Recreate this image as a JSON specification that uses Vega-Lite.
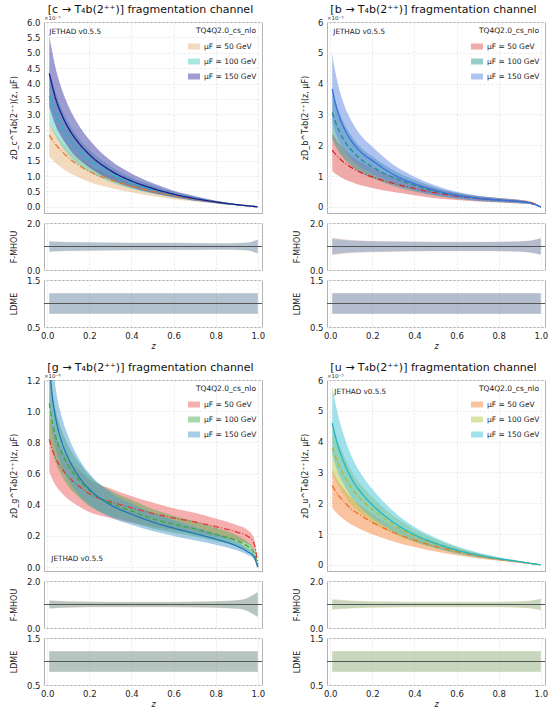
{
  "$schema": "https://vega.github.io/schema/vega-lite/v6.json",
  "datasets": {
    "c": [
      {"mu":50,"z":0.01,"v":2.33,"lo":1.63,"hi":2.73},{"mu":50,"z":0.02,"v":2.22,"lo":1.55,"hi":2.6},{"mu":50,"z":0.04,"v":2.03,"lo":1.42,"hi":2.38},{"mu":50,"z":0.07,"v":1.8,"lo":1.26,"hi":2.11},{"mu":50,"z":0.1,"v":1.6,"lo":1.12,"hi":1.87},{"mu":50,"z":0.15,"v":1.35,"lo":0.95,"hi":1.58},{"mu":50,"z":0.2,"v":1.15,"lo":0.81,"hi":1.35},{"mu":50,"z":0.3,"v":0.88,"lo":0.62,"hi":1.03},{"mu":50,"z":0.4,"v":0.67,"lo":0.47,"hi":0.78},{"mu":50,"z":0.5,"v":0.5,"lo":0.35,"hi":0.59},{"mu":50,"z":0.6,"v":0.36,"lo":0.25,"hi":0.42},{"mu":50,"z":0.7,"v":0.25,"lo":0.18,"hi":0.29},{"mu":50,"z":0.8,"v":0.15,"lo":0.11,"hi":0.18},{"mu":50,"z":0.9,"v":0.07,"lo":0.05,"hi":0.08},{"mu":50,"z":0.95,"v":0.035,"lo":0.02,"hi":0.04},{"mu":50,"z":1.0,"v":0,"lo":0,"hi":0},
      {"mu":100,"z":0.01,"v":3.6,"lo":2.7,"hi":4.39},{"mu":100,"z":0.02,"v":3.4,"lo":2.55,"hi":4.15},{"mu":100,"z":0.04,"v":3.05,"lo":2.29,"hi":3.72},{"mu":100,"z":0.07,"v":2.6,"lo":1.95,"hi":3.17},{"mu":100,"z":0.1,"v":2.25,"lo":1.69,"hi":2.75},{"mu":100,"z":0.15,"v":1.83,"lo":1.37,"hi":2.23},{"mu":100,"z":0.2,"v":1.52,"lo":1.14,"hi":1.85},{"mu":100,"z":0.3,"v":1.08,"lo":0.81,"hi":1.32},{"mu":100,"z":0.4,"v":0.78,"lo":0.59,"hi":0.95},{"mu":100,"z":0.5,"v":0.57,"lo":0.43,"hi":0.7},{"mu":100,"z":0.6,"v":0.4,"lo":0.3,"hi":0.49},{"mu":100,"z":0.7,"v":0.27,"lo":0.2,"hi":0.33},{"mu":100,"z":0.8,"v":0.16,"lo":0.12,"hi":0.2},{"mu":100,"z":0.9,"v":0.07,"lo":0.05,"hi":0.09},{"mu":100,"z":0.95,"v":0.035,"lo":0.03,"hi":0.04},{"mu":100,"z":1.0,"v":0,"lo":0,"hi":0},
      {"mu":150,"z":0.01,"v":4.33,"lo":3.25,"hi":5.54},{"mu":150,"z":0.02,"v":4.05,"lo":3.04,"hi":5.18},{"mu":150,"z":0.04,"v":3.52,"lo":2.64,"hi":4.51},{"mu":150,"z":0.07,"v":2.98,"lo":2.24,"hi":3.81},{"mu":150,"z":0.1,"v":2.57,"lo":1.93,"hi":3.29},{"mu":150,"z":0.15,"v":2.07,"lo":1.55,"hi":2.65},{"mu":150,"z":0.2,"v":1.7,"lo":1.28,"hi":2.18},{"mu":150,"z":0.3,"v":1.18,"lo":0.89,"hi":1.51},{"mu":150,"z":0.4,"v":0.84,"lo":0.63,"hi":1.08},{"mu":150,"z":0.5,"v":0.6,"lo":0.45,"hi":0.77},{"mu":150,"z":0.6,"v":0.41,"lo":0.31,"hi":0.52},{"mu":150,"z":0.7,"v":0.27,"lo":0.2,"hi":0.35},{"mu":150,"z":0.8,"v":0.16,"lo":0.12,"hi":0.2},{"mu":150,"z":0.9,"v":0.07,"lo":0.05,"hi":0.09},{"mu":150,"z":0.95,"v":0.035,"lo":0.03,"hi":0.04},{"mu":150,"z":1.0,"v":0,"lo":0,"hi":0}
    ],
    "b": [
      {"mu":50,"z":0.01,"v":1.84,"lo":1.16,"hi":2.39},{"mu":50,"z":0.02,"v":1.75,"lo":1.1,"hi":2.28},{"mu":50,"z":0.04,"v":1.6,"lo":1.01,"hi":2.08},{"mu":50,"z":0.07,"v":1.42,"lo":0.89,"hi":1.85},{"mu":50,"z":0.1,"v":1.28,"lo":0.81,"hi":1.66},{"mu":50,"z":0.15,"v":1.1,"lo":0.69,"hi":1.43},{"mu":50,"z":0.2,"v":0.97,"lo":0.61,"hi":1.26},{"mu":50,"z":0.3,"v":0.76,"lo":0.48,"hi":0.99},{"mu":50,"z":0.4,"v":0.6,"lo":0.38,"hi":0.78},{"mu":50,"z":0.5,"v":0.45,"lo":0.28,"hi":0.59},{"mu":50,"z":0.6,"v":0.35,"lo":0.22,"hi":0.46},{"mu":50,"z":0.7,"v":0.27,"lo":0.17,"hi":0.35},{"mu":50,"z":0.8,"v":0.22,"lo":0.14,"hi":0.29},{"mu":50,"z":0.9,"v":0.18,"lo":0.11,"hi":0.23},{"mu":50,"z":0.95,"v":0.14,"lo":0.09,"hi":0.18},{"mu":50,"z":1.0,"v":0,"lo":0,"hi":0},
      {"mu":100,"z":0.01,"v":3.06,"lo":2.2,"hi":3.83},{"mu":100,"z":0.02,"v":2.85,"lo":2.05,"hi":3.56},{"mu":100,"z":0.04,"v":2.5,"lo":1.8,"hi":3.13},{"mu":100,"z":0.07,"v":2.12,"lo":1.53,"hi":2.65},{"mu":100,"z":0.1,"v":1.85,"lo":1.33,"hi":2.31},{"mu":100,"z":0.15,"v":1.52,"lo":1.09,"hi":1.9},{"mu":100,"z":0.2,"v":1.3,"lo":0.94,"hi":1.63},{"mu":100,"z":0.3,"v":0.95,"lo":0.68,"hi":1.19},{"mu":100,"z":0.4,"v":0.7,"lo":0.5,"hi":0.88},{"mu":100,"z":0.5,"v":0.5,"lo":0.36,"hi":0.63},{"mu":100,"z":0.6,"v":0.37,"lo":0.27,"hi":0.46},{"mu":100,"z":0.7,"v":0.28,"lo":0.2,"hi":0.35},{"mu":100,"z":0.8,"v":0.22,"lo":0.16,"hi":0.28},{"mu":100,"z":0.9,"v":0.17,"lo":0.12,"hi":0.21},{"mu":100,"z":0.95,"v":0.12,"lo":0.09,"hi":0.15},{"mu":100,"z":1.0,"v":0,"lo":0,"hi":0},
      {"mu":150,"z":0.01,"v":3.83,"lo":2.76,"hi":4.98},{"mu":150,"z":0.02,"v":3.5,"lo":2.52,"hi":4.55},{"mu":150,"z":0.04,"v":3.0,"lo":2.16,"hi":3.9},{"mu":150,"z":0.07,"v":2.5,"lo":1.8,"hi":3.25},{"mu":150,"z":0.1,"v":2.15,"lo":1.55,"hi":2.8},{"mu":150,"z":0.15,"v":1.75,"lo":1.26,"hi":2.28},{"mu":150,"z":0.2,"v":1.5,"lo":1.08,"hi":1.95},{"mu":150,"z":0.3,"v":1.05,"lo":0.76,"hi":1.37},{"mu":150,"z":0.4,"v":0.75,"lo":0.54,"hi":0.98},{"mu":150,"z":0.5,"v":0.53,"lo":0.38,"hi":0.69},{"mu":150,"z":0.6,"v":0.38,"lo":0.27,"hi":0.49},{"mu":150,"z":0.7,"v":0.28,"lo":0.2,"hi":0.36},{"mu":150,"z":0.8,"v":0.22,"lo":0.16,"hi":0.29},{"mu":150,"z":0.9,"v":0.17,"lo":0.12,"hi":0.22},{"mu":150,"z":0.95,"v":0.12,"lo":0.09,"hi":0.16},{"mu":150,"z":1.0,"v":0,"lo":0,"hi":0}
    ],
    "g": [
      {"mu":50,"z":0.01,"v":0.82,"lo":0.615,"hi":0.984},{"mu":50,"z":0.02,"v":0.77,"lo":0.578,"hi":0.924},{"mu":50,"z":0.04,"v":0.7,"lo":0.525,"hi":0.84},{"mu":50,"z":0.07,"v":0.63,"lo":0.473,"hi":0.756},{"mu":50,"z":0.1,"v":0.58,"lo":0.435,"hi":0.696},{"mu":50,"z":0.15,"v":0.52,"lo":0.39,"hi":0.624},{"mu":50,"z":0.2,"v":0.47,"lo":0.353,"hi":0.564},{"mu":50,"z":0.3,"v":0.42,"lo":0.315,"hi":0.504},{"mu":50,"z":0.4,"v":0.38,"lo":0.285,"hi":0.456},{"mu":50,"z":0.5,"v":0.345,"lo":0.259,"hi":0.414},{"mu":50,"z":0.6,"v":0.315,"lo":0.236,"hi":0.378},{"mu":50,"z":0.7,"v":0.29,"lo":0.218,"hi":0.348},{"mu":50,"z":0.8,"v":0.26,"lo":0.195,"hi":0.312},{"mu":50,"z":0.9,"v":0.225,"lo":0.169,"hi":0.27},{"mu":50,"z":0.95,"v":0.2,"lo":0.15,"hi":0.24},{"mu":50,"z":0.98,"v":0.16,"lo":0.12,"hi":0.192},{"mu":50,"z":1.0,"v":0.02,"lo":0.015,"hi":0.024},
      {"mu":100,"z":0.01,"v":1.05,"lo":0.84,"hi":1.26},{"mu":100,"z":0.02,"v":0.96,"lo":0.768,"hi":1.152},{"mu":100,"z":0.04,"v":0.84,"lo":0.672,"hi":1.008},{"mu":100,"z":0.07,"v":0.73,"lo":0.584,"hi":0.876},{"mu":100,"z":0.1,"v":0.65,"lo":0.52,"hi":0.78},{"mu":100,"z":0.15,"v":0.56,"lo":0.448,"hi":0.672},{"mu":100,"z":0.2,"v":0.49,"lo":0.392,"hi":0.588},{"mu":100,"z":0.3,"v":0.41,"lo":0.328,"hi":0.492},{"mu":100,"z":0.4,"v":0.36,"lo":0.288,"hi":0.432},{"mu":100,"z":0.5,"v":0.31,"lo":0.248,"hi":0.372},{"mu":100,"z":0.6,"v":0.275,"lo":0.22,"hi":0.33},{"mu":100,"z":0.7,"v":0.245,"lo":0.196,"hi":0.294},{"mu":100,"z":0.8,"v":0.21,"lo":0.168,"hi":0.252},{"mu":100,"z":0.9,"v":0.17,"lo":0.136,"hi":0.204},{"mu":100,"z":0.95,"v":0.135,"lo":0.108,"hi":0.162},{"mu":100,"z":0.98,"v":0.1,"lo":0.08,"hi":0.12},{"mu":100,"z":1.0,"v":0,"lo":0,"hi":0},
      {"mu":150,"z":0.01,"v":1.32,"lo":1.056,"hi":1.584},{"mu":150,"z":0.02,"v":1.15,"lo":0.92,"hi":1.38},{"mu":150,"z":0.04,"v":0.96,"lo":0.768,"hi":1.152},{"mu":150,"z":0.07,"v":0.8,"lo":0.64,"hi":0.96},{"mu":150,"z":0.1,"v":0.7,"lo":0.56,"hi":0.84},{"mu":150,"z":0.15,"v":0.58,"lo":0.464,"hi":0.696},{"mu":150,"z":0.2,"v":0.5,"lo":0.4,"hi":0.6},{"mu":150,"z":0.3,"v":0.4,"lo":0.32,"hi":0.48},{"mu":150,"z":0.4,"v":0.34,"lo":0.272,"hi":0.408},{"mu":150,"z":0.5,"v":0.29,"lo":0.232,"hi":0.348},{"mu":150,"z":0.6,"v":0.25,"lo":0.2,"hi":0.3},{"mu":150,"z":0.7,"v":0.215,"lo":0.172,"hi":0.258},{"mu":150,"z":0.8,"v":0.18,"lo":0.144,"hi":0.216},{"mu":150,"z":0.9,"v":0.135,"lo":0.108,"hi":0.162},{"mu":150,"z":0.95,"v":0.1,"lo":0.08,"hi":0.12},{"mu":150,"z":0.98,"v":0.07,"lo":0.056,"hi":0.084},{"mu":150,"z":1.0,"v":0,"lo":0,"hi":0}
    ],
    "u": [
      {"mu":50,"z":0.01,"v":2.57,"lo":1.85,"hi":3.08},{"mu":50,"z":0.02,"v":2.45,"lo":1.76,"hi":2.94},{"mu":50,"z":0.04,"v":2.25,"lo":1.62,"hi":2.7},{"mu":50,"z":0.07,"v":2.02,"lo":1.45,"hi":2.42},{"mu":50,"z":0.1,"v":1.82,"lo":1.31,"hi":2.18},{"mu":50,"z":0.15,"v":1.58,"lo":1.14,"hi":1.9},{"mu":50,"z":0.2,"v":1.38,"lo":0.99,"hi":1.66},{"mu":50,"z":0.3,"v":1.05,"lo":0.76,"hi":1.26},{"mu":50,"z":0.4,"v":0.8,"lo":0.58,"hi":0.96},{"mu":50,"z":0.5,"v":0.6,"lo":0.43,"hi":0.72},{"mu":50,"z":0.6,"v":0.43,"lo":0.31,"hi":0.52},{"mu":50,"z":0.7,"v":0.29,"lo":0.21,"hi":0.35},{"mu":50,"z":0.8,"v":0.18,"lo":0.13,"hi":0.22},{"mu":50,"z":0.9,"v":0.09,"lo":0.06,"hi":0.11},{"mu":50,"z":0.95,"v":0.045,"lo":0.03,"hi":0.05},{"mu":50,"z":1.0,"v":0,"lo":0,"hi":0},
      {"mu":100,"z":0.01,"v":3.8,"lo":2.96,"hi":4.64},{"mu":100,"z":0.02,"v":3.6,"lo":2.81,"hi":4.39},{"mu":100,"z":0.04,"v":3.25,"lo":2.54,"hi":3.97},{"mu":100,"z":0.07,"v":2.85,"lo":2.22,"hi":3.48},{"mu":100,"z":0.1,"v":2.5,"lo":1.95,"hi":3.05},{"mu":100,"z":0.15,"v":2.1,"lo":1.64,"hi":2.56},{"mu":100,"z":0.2,"v":1.8,"lo":1.4,"hi":2.2},{"mu":100,"z":0.3,"v":1.3,"lo":1.01,"hi":1.59},{"mu":100,"z":0.4,"v":0.94,"lo":0.73,"hi":1.15},{"mu":100,"z":0.5,"v":0.68,"lo":0.53,"hi":0.83},{"mu":100,"z":0.6,"v":0.47,"lo":0.37,"hi":0.57},{"mu":100,"z":0.7,"v":0.31,"lo":0.24,"hi":0.38},{"mu":100,"z":0.8,"v":0.19,"lo":0.15,"hi":0.23},{"mu":100,"z":0.9,"v":0.095,"lo":0.07,"hi":0.12},{"mu":100,"z":0.95,"v":0.048,"lo":0.04,"hi":0.06},{"mu":100,"z":1.0,"v":0,"lo":0,"hi":0},
      {"mu":150,"z":0.01,"v":4.6,"lo":3.59,"hi":5.8},{"mu":150,"z":0.02,"v":4.3,"lo":3.35,"hi":5.42},{"mu":150,"z":0.04,"v":3.8,"lo":2.96,"hi":4.79},{"mu":150,"z":0.07,"v":3.25,"lo":2.54,"hi":4.1},{"mu":150,"z":0.1,"v":2.82,"lo":2.2,"hi":3.55},{"mu":150,"z":0.15,"v":2.32,"lo":1.81,"hi":2.92},{"mu":150,"z":0.2,"v":1.95,"lo":1.52,"hi":2.46},{"mu":150,"z":0.3,"v":1.38,"lo":1.08,"hi":1.74},{"mu":150,"z":0.4,"v":0.98,"lo":0.76,"hi":1.23},{"mu":150,"z":0.5,"v":0.7,"lo":0.55,"hi":0.88},{"mu":150,"z":0.6,"v":0.48,"lo":0.37,"hi":0.6},{"mu":150,"z":0.7,"v":0.32,"lo":0.25,"hi":0.4},{"mu":150,"z":0.8,"v":0.2,"lo":0.16,"hi":0.25},{"mu":150,"z":0.9,"v":0.1,"lo":0.08,"hi":0.13},{"mu":150,"z":0.95,"v":0.05,"lo":0.04,"hi":0.06},{"mu":150,"z":1.0,"v":0,"lo":0,"hi":0}
    ],
    "cr": [
      {"mu":50,"z":0.01,"lo":0.76,"hi":1.24},{"mu":50,"z":0.1,"lo":0.8,"hi":1.2},{"mu":50,"z":0.3,"lo":0.82,"hi":1.18},{"mu":50,"z":0.5,"lo":0.83,"hi":1.17},{"mu":50,"z":0.7,"lo":0.84,"hi":1.16},{"mu":50,"z":0.85,"lo":0.85,"hi":1.15},{"mu":50,"z":0.95,"lo":0.82,"hi":1.18},{"mu":50,"z":1.0,"lo":0.72,"hi":1.28},
      {"mu":100,"z":0.01,"lo":0.78,"hi":1.22},{"mu":100,"z":0.1,"lo":0.81,"hi":1.19},{"mu":100,"z":0.3,"lo":0.83,"hi":1.17},{"mu":100,"z":0.5,"lo":0.84,"hi":1.16},{"mu":100,"z":0.7,"lo":0.85,"hi":1.15},{"mu":100,"z":0.85,"lo":0.86,"hi":1.14},{"mu":100,"z":0.95,"lo":0.83,"hi":1.17},{"mu":100,"z":1.0,"lo":0.71,"hi":1.29},
      {"mu":150,"z":0.01,"lo":0.79,"hi":1.21},{"mu":150,"z":0.1,"lo":0.82,"hi":1.18},{"mu":150,"z":0.3,"lo":0.84,"hi":1.16},{"mu":150,"z":0.5,"lo":0.85,"hi":1.15},{"mu":150,"z":0.7,"lo":0.86,"hi":1.14},{"mu":150,"z":0.85,"lo":0.87,"hi":1.13},{"mu":150,"z":0.95,"lo":0.84,"hi":1.16},{"mu":150,"z":1.0,"lo":0.7,"hi":1.3}
    ],
    "br": [
      {"mu":50,"z":0.01,"lo":0.63,"hi":1.37},{"mu":50,"z":0.1,"lo":0.72,"hi":1.28},{"mu":50,"z":0.3,"lo":0.78,"hi":1.22},{"mu":50,"z":0.5,"lo":0.8,"hi":1.2},{"mu":50,"z":0.7,"lo":0.8,"hi":1.2},{"mu":50,"z":0.85,"lo":0.79,"hi":1.21},{"mu":50,"z":0.95,"lo":0.74,"hi":1.26},{"mu":50,"z":1.0,"lo":0.66,"hi":1.34},
      {"mu":100,"z":0.01,"lo":0.66,"hi":1.34},{"mu":100,"z":0.1,"lo":0.74,"hi":1.26},{"mu":100,"z":0.3,"lo":0.79,"hi":1.21},{"mu":100,"z":0.5,"lo":0.81,"hi":1.19},{"mu":100,"z":0.7,"lo":0.81,"hi":1.19},{"mu":100,"z":0.85,"lo":0.8,"hi":1.2},{"mu":100,"z":0.95,"lo":0.75,"hi":1.25},{"mu":100,"z":1.0,"lo":0.65,"hi":1.35},
      {"mu":150,"z":0.01,"lo":0.68,"hi":1.32},{"mu":150,"z":0.1,"lo":0.76,"hi":1.24},{"mu":150,"z":0.3,"lo":0.8,"hi":1.2},{"mu":150,"z":0.5,"lo":0.82,"hi":1.18},{"mu":150,"z":0.7,"lo":0.82,"hi":1.18},{"mu":150,"z":0.85,"lo":0.8,"hi":1.2},{"mu":150,"z":0.95,"lo":0.75,"hi":1.25},{"mu":150,"z":1.0,"lo":0.64,"hi":1.36}
    ],
    "gr": [
      {"mu":50,"z":0.01,"lo":0.82,"hi":1.18},{"mu":50,"z":0.1,"lo":0.86,"hi":1.14},{"mu":50,"z":0.3,"lo":0.88,"hi":1.12},{"mu":50,"z":0.5,"lo":0.88,"hi":1.12},{"mu":50,"z":0.7,"lo":0.87,"hi":1.13},{"mu":50,"z":0.85,"lo":0.84,"hi":1.16},{"mu":50,"z":0.93,"lo":0.78,"hi":1.22},{"mu":50,"z":0.97,"lo":0.65,"hi":1.35},{"mu":50,"z":1.0,"lo":0.5,"hi":1.5},
      {"mu":100,"z":0.01,"lo":0.83,"hi":1.17},{"mu":100,"z":0.1,"lo":0.87,"hi":1.13},{"mu":100,"z":0.3,"lo":0.89,"hi":1.11},{"mu":100,"z":0.5,"lo":0.89,"hi":1.11},{"mu":100,"z":0.7,"lo":0.88,"hi":1.12},{"mu":100,"z":0.85,"lo":0.85,"hi":1.15},{"mu":100,"z":0.93,"lo":0.79,"hi":1.21},{"mu":100,"z":0.97,"lo":0.63,"hi":1.37},{"mu":100,"z":1.0,"lo":0.47,"hi":1.53},
      {"mu":150,"z":0.01,"lo":0.84,"hi":1.16},{"mu":150,"z":0.1,"lo":0.88,"hi":1.12},{"mu":150,"z":0.3,"lo":0.9,"hi":1.1},{"mu":150,"z":0.5,"lo":0.9,"hi":1.1},{"mu":150,"z":0.7,"lo":0.89,"hi":1.11},{"mu":150,"z":0.85,"lo":0.86,"hi":1.14},{"mu":150,"z":0.93,"lo":0.8,"hi":1.2},{"mu":150,"z":0.97,"lo":0.62,"hi":1.38},{"mu":150,"z":1.0,"lo":0.45,"hi":1.55}
    ],
    "ur": [
      {"mu":50,"z":0.01,"lo":0.77,"hi":1.23},{"mu":50,"z":0.1,"lo":0.83,"hi":1.17},{"mu":50,"z":0.3,"lo":0.87,"hi":1.13},{"mu":50,"z":0.5,"lo":0.88,"hi":1.12},{"mu":50,"z":0.7,"lo":0.88,"hi":1.12},{"mu":50,"z":0.85,"lo":0.87,"hi":1.13},{"mu":50,"z":0.95,"lo":0.83,"hi":1.17},{"mu":50,"z":1.0,"lo":0.75,"hi":1.25},
      {"mu":100,"z":0.01,"lo":0.79,"hi":1.21},{"mu":100,"z":0.1,"lo":0.84,"hi":1.16},{"mu":100,"z":0.3,"lo":0.88,"hi":1.12},{"mu":100,"z":0.5,"lo":0.89,"hi":1.11},{"mu":100,"z":0.7,"lo":0.89,"hi":1.11},{"mu":100,"z":0.85,"lo":0.88,"hi":1.12},{"mu":100,"z":0.95,"lo":0.84,"hi":1.16},{"mu":100,"z":1.0,"lo":0.76,"hi":1.24},
      {"mu":150,"z":0.01,"lo":0.8,"hi":1.2},{"mu":150,"z":0.1,"lo":0.85,"hi":1.15},{"mu":150,"z":0.3,"lo":0.89,"hi":1.11},{"mu":150,"z":0.5,"lo":0.9,"hi":1.1},{"mu":150,"z":0.7,"lo":0.9,"hi":1.1},{"mu":150,"z":0.85,"lo":0.89,"hi":1.11},{"mu":150,"z":0.95,"lo":0.85,"hi":1.15},{"mu":150,"z":1.0,"lo":0.77,"hi":1.23}
    ],
    "ldme": [
      {"mu":50,"z":0.01,"lo":0.78,"hi":1.22},{"mu":50,"z":1.0,"lo":0.78,"hi":1.22},
      {"mu":100,"z":0.01,"lo":0.78,"hi":1.22},{"mu":100,"z":1.0,"lo":0.78,"hi":1.22},
      {"mu":150,"z":0.01,"lo":0.78,"hi":1.22},{"mu":150,"z":1.0,"lo":0.78,"hi":1.22}
    ]
  },
  "spacing": 10,
  "resolve": {"scale": {"x": "independent", "y": "independent", "fill": "independent", "stroke": "independent", "strokeDash": "independent"}},
  "vconcat": [
    {
      "spacing": 26,
      "resolve": {"scale": {"x": "independent", "y": "independent", "fill": "independent", "stroke": "independent", "strokeDash": "independent"}},
      "hconcat": [
        {
          "title": "[c → T₄b(2⁺⁺)] fragmentation channel",
          "bounds": "flush",
          "spacing": 10,
          "resolve": {"scale": {"x": "independent", "y": "independent", "fill": "independent", "stroke": "independent", "strokeDash": "independent"}},
          "vconcat": [
            {
              "width": 218, "height": 191,
              "layer": [
                {
                  "data": {"name": "c"},
                  "mark": {"type": "area", "fillOpacity": 0.5, "interpolate": "monotone", "clip": true},
                  "encoding": {
                    "x": {"field": "z", "type": "quantitative", "scale": {"domain": [-0.015, 1.02], "nice": false, "zero": false}, "axis": {"labels": false, "title": null, "values": [0, 0.2, 0.4, 0.6, 0.8, 1]}},
                    "y": {"field": "lo", "type": "quantitative", "scale": {"domain": [-0.2, 6], "nice": false, "zero": false}, "axis": {"values": [0, 0.5, 1, 1.5, 2, 2.5, 3, 3.5, 4, 4.5, 5, 5.5, 6], "tickCount": 13, "format": ".1f", "labelOverlap": false, "labelSeparation": 0, "title": "zD_c^T₄b(2⁺⁺)(z, μF)"}},
                    "y2": {"field": "hi"},
                    "fill": {"field": "mu", "type": "nominal", "scale": {"domain": [50, 100, 150], "range": ["#e7b57d", "#55cdbd", "#3c3ca5"]}, "legend": {"title": "TQ4Q2.0_cs_nlo", "labelExpr": "'μF = ' + datum.label + ' GeV'"}}
                  }
                },
                {
                  "data": {"name": "c"},
                  "mark": {"type": "line", "strokeWidth": 1.3, "interpolate": "monotone", "clip": true},
                  "encoding": {
                    "x": {"field": "z", "type": "quantitative"},
                    "y": {"field": "v", "type": "quantitative"},
                    "stroke": {"field": "mu", "type": "nominal", "scale": {"domain": [50, 100, 150], "range": ["#e07b28", "#1fb8c8", "#1a1a8c"]}, "legend": null},
                    "strokeDash": {"field": "mu", "type": "nominal", "scale": {"domain": [50, 100, 150], "range": [[6, 2, 1, 2], [5, 3], [1, 0]]}, "legend": null}
                  }
                },
                {"data": {"values": [{}]}, "mark": {"type": "text", "text": "JETHAD v0.5.5", "align": "left", "baseline": "middle", "fontSize": 7.2, "color": "#222"}, "encoding": {"x": {"datum": 0.01}, "y": {"datum": 5.68}}},
                {"data": {"values": [{}]}, "mark": {"type": "text", "text": "×10⁻⁵", "align": "left", "baseline": "bottom", "fontSize": 5.5, "dy": -1, "color": "#333"}, "encoding": {"x": {"datum": -0.015}, "y": {"datum": 6}}}
              ]
            },
            {
              "width": 218, "height": 47,
              "layer": [
                {
                  "data": {"name": "cr"},
                  "mark": {"type": "area", "fillOpacity": 0.22, "interpolate": "monotone"},
                  "encoding": {
                    "x": {"field": "z", "type": "quantitative", "scale": {"domain": [-0.015, 1.02], "nice": false, "zero": false}, "axis": {"labels": false, "title": null, "values": [0, 0.2, 0.4, 0.6, 0.8, 1]}},
                    "y": {"field": "lo", "type": "quantitative", "scale": {"domain": [0, 2], "nice": false}, "axis": {"values": [0, 1, 2], "format": ".1f", "labelOverlap": false, "title": "F-MHOU"}},
                    "y2": {"field": "hi"},
                    "fill": {"field": "mu", "type": "nominal", "scale": {"domain": [50, 100, 150], "range": ["#e7b57d", "#55cdbd", "#3c3ca5"]}, "legend": null}
                  }
                },
                {"data": {"values": [{}]}, "mark": {"type": "rule", "color": "#555", "strokeWidth": 1}, "encoding": {"y": {"datum": 1}}}
              ]
            },
            {
              "width": 218, "height": 47,
              "layer": [
                {
                  "data": {"name": "ldme"},
                  "mark": {"type": "area", "fillOpacity": 0.22},
                  "encoding": {
                    "x": {"field": "z", "type": "quantitative", "scale": {"domain": [-0.015, 1.02], "nice": false, "zero": false}, "axis": {"values": [0, 0.2, 0.4, 0.6, 0.8, 1], "format": ".1f", "labelOverlap": false, "title": "z", "titleFontStyle": "italic"}},
                    "y": {"field": "lo", "type": "quantitative", "scale": {"domain": [0.5, 1.5], "nice": false, "zero": false}, "axis": {"values": [0.5, 1, 1.5], "format": ".1f", "labelOverlap": false, "title": "LDME"}},
                    "y2": {"field": "hi"},
                    "fill": {"field": "mu", "type": "nominal", "scale": {"domain": [50, 100, 150], "range": ["#e7b57d", "#55cdbd", "#3c3ca5"]}, "legend": null}
                  }
                },
                {"data": {"values": [{}]}, "mark": {"type": "rule", "color": "#555", "strokeWidth": 1}, "encoding": {"y": {"datum": 1}}}
              ]
            }
          ]
        },
        {
          "title": "[b → T₄b(2⁺⁺)] fragmentation channel",
          "bounds": "flush",
          "spacing": 10,
          "resolve": {"scale": {"x": "independent", "y": "independent", "fill": "independent", "stroke": "independent", "strokeDash": "independent"}},
          "vconcat": [
            {
              "width": 218, "height": 191,
              "layer": [
                {
                  "data": {"name": "b"},
                  "mark": {"type": "area", "fillOpacity": 0.5, "interpolate": "monotone", "clip": true},
                  "encoding": {
                    "x": {"field": "z", "type": "quantitative", "scale": {"domain": [-0.015, 1.02], "nice": false, "zero": false}, "axis": {"labels": false, "title": null, "values": [0, 0.2, 0.4, 0.6, 0.8, 1]}},
                    "y": {"field": "lo", "type": "quantitative", "scale": {"domain": [-0.2, 6], "nice": false, "zero": false}, "axis": {"values": [0, 1, 2, 3, 4, 5, 6], "tickCount": 7, "format": "d", "labelOverlap": false, "labelSeparation": 0, "title": "zD_b^T₄b(2⁺⁺)(z, μF)"}},
                    "y2": {"field": "hi"},
                    "fill": {"field": "mu", "type": "nominal", "scale": {"domain": [50, 100, 150], "range": ["#e15555", "#2d9b91", "#5f87e1"]}, "legend": {"title": "TQ4Q2.0_cs_nlo", "labelExpr": "'μF = ' + datum.label + ' GeV'"}}
                  }
                },
                {
                  "data": {"name": "b"},
                  "mark": {"type": "line", "strokeWidth": 1.3, "interpolate": "monotone", "clip": true},
                  "encoding": {
                    "x": {"field": "z", "type": "quantitative"},
                    "y": {"field": "v", "type": "quantitative"},
                    "stroke": {"field": "mu", "type": "nominal", "scale": {"domain": [50, 100, 150], "range": ["#d42a2a", "#1f8f86", "#3a6fe0"]}, "legend": null},
                    "strokeDash": {"field": "mu", "type": "nominal", "scale": {"domain": [50, 100, 150], "range": [[6, 2, 1, 2], [5, 3], [1, 0]]}, "legend": null}
                  }
                },
                {"data": {"values": [{}]}, "mark": {"type": "text", "text": "JETHAD v0.5.5", "align": "left", "baseline": "middle", "fontSize": 7.2, "color": "#222"}, "encoding": {"x": {"datum": 0.015}, "y": {"datum": 5.69}}},
                {"data": {"values": [{}]}, "mark": {"type": "text", "text": "×10⁻⁵", "align": "left", "baseline": "bottom", "fontSize": 5.5, "dy": -1, "color": "#333"}, "encoding": {"x": {"datum": -0.015}, "y": {"datum": 6}}}
              ]
            },
            {
              "width": 218, "height": 47,
              "layer": [
                {
                  "data": {"name": "br"},
                  "mark": {"type": "area", "fillOpacity": 0.22, "interpolate": "monotone"},
                  "encoding": {
                    "x": {"field": "z", "type": "quantitative", "scale": {"domain": [-0.015, 1.02], "nice": false, "zero": false}, "axis": {"labels": false, "title": null, "values": [0, 0.2, 0.4, 0.6, 0.8, 1]}},
                    "y": {"field": "lo", "type": "quantitative", "scale": {"domain": [0, 2], "nice": false}, "axis": {"values": [0, 1, 2], "format": ".1f", "labelOverlap": false, "title": "F-MHOU"}},
                    "y2": {"field": "hi"},
                    "fill": {"field": "mu", "type": "nominal", "scale": {"domain": [50, 100, 150], "range": ["#e15555", "#2d9b91", "#5f87e1"]}, "legend": null}
                  }
                },
                {"data": {"values": [{}]}, "mark": {"type": "rule", "color": "#555", "strokeWidth": 1}, "encoding": {"y": {"datum": 1}}}
              ]
            },
            {
              "width": 218, "height": 47,
              "layer": [
                {
                  "data": {"name": "ldme"},
                  "mark": {"type": "area", "fillOpacity": 0.22},
                  "encoding": {
                    "x": {"field": "z", "type": "quantitative", "scale": {"domain": [-0.015, 1.02], "nice": false, "zero": false}, "axis": {"values": [0, 0.2, 0.4, 0.6, 0.8, 1], "format": ".1f", "labelOverlap": false, "title": "z", "titleFontStyle": "italic"}},
                    "y": {"field": "lo", "type": "quantitative", "scale": {"domain": [0.5, 1.5], "nice": false, "zero": false}, "axis": {"values": [0.5, 1, 1.5], "format": ".1f", "labelOverlap": false, "title": "LDME"}},
                    "y2": {"field": "hi"},
                    "fill": {"field": "mu", "type": "nominal", "scale": {"domain": [50, 100, 150], "range": ["#e15555", "#2d9b91", "#5f87e1"]}, "legend": null}
                  }
                },
                {"data": {"values": [{}]}, "mark": {"type": "rule", "color": "#555", "strokeWidth": 1}, "encoding": {"y": {"datum": 1}}}
              ]
            }
          ]
        }
      ]
    },
    {
      "spacing": 26,
      "resolve": {"scale": {"x": "independent", "y": "independent", "fill": "independent", "stroke": "independent", "strokeDash": "independent"}},
      "hconcat": [
        {
          "title": "[g → T₄b(2⁺⁺)] fragmentation channel",
          "bounds": "flush",
          "spacing": 10,
          "resolve": {"scale": {"x": "independent", "y": "independent", "fill": "independent", "stroke": "independent", "strokeDash": "independent"}},
          "vconcat": [
            {
              "width": 218, "height": 191,
              "layer": [
                {
                  "data": {"name": "g"},
                  "mark": {"type": "area", "fillOpacity": 0.5, "interpolate": "monotone", "clip": true},
                  "encoding": {
                    "x": {"field": "z", "type": "quantitative", "scale": {"domain": [-0.015, 1.02], "nice": false, "zero": false}, "axis": {"labels": false, "title": null, "values": [0, 0.2, 0.4, 0.6, 0.8, 1]}},
                    "y": {"field": "lo", "type": "quantitative", "scale": {"domain": [-0.025, 1.2], "nice": false, "zero": false}, "axis": {"values": [0, 0.2, 0.4, 0.6, 0.8, 1, 1.2], "tickCount": 7, "format": ".1f", "labelOverlap": false, "labelSeparation": 0, "title": "zD_g^T₄b(2⁺⁺)(z, μF)"}},
                    "y2": {"field": "hi"},
                    "fill": {"field": "mu", "type": "nominal", "scale": {"domain": [50, 100, 150], "range": ["#eb5f5f", "#55af55", "#4b9bcd"]}, "legend": {"title": "TQ4Q2.0_cs_nlo", "labelExpr": "'μF = ' + datum.label + ' GeV'"}}
                  }
                },
                {
                  "data": {"name": "g"},
                  "mark": {"type": "line", "strokeWidth": 1.3, "interpolate": "monotone", "clip": true},
                  "encoding": {
                    "x": {"field": "z", "type": "quantitative"},
                    "y": {"field": "v", "type": "quantitative"},
                    "stroke": {"field": "mu", "type": "nominal", "scale": {"domain": [50, 100, 150], "range": ["#e03a3a", "#3aaa3a", "#1f77b4"]}, "legend": null},
                    "strokeDash": {"field": "mu", "type": "nominal", "scale": {"domain": [50, 100, 150], "range": [[6, 2, 1, 2], [5, 3], [1, 0]]}, "legend": null}
                  }
                },
                {"data": {"values": [{}]}, "mark": {"type": "text", "text": "JETHAD v0.5.5", "align": "left", "baseline": "middle", "fontSize": 7.2, "color": "#222"}, "encoding": {"x": {"datum": 0.02}, "y": {"datum": 0.05}}},
                {"data": {"values": [{}]}, "mark": {"type": "text", "text": "×10⁻⁶", "align": "left", "baseline": "bottom", "fontSize": 5.5, "dy": -1, "color": "#333"}, "encoding": {"x": {"datum": -0.015}, "y": {"datum": 1.2}}}
              ]
            },
            {
              "width": 218, "height": 47,
              "layer": [
                {
                  "data": {"name": "gr"},
                  "mark": {"type": "area", "fillOpacity": 0.22, "interpolate": "monotone"},
                  "encoding": {
                    "x": {"field": "z", "type": "quantitative", "scale": {"domain": [-0.015, 1.02], "nice": false, "zero": false}, "axis": {"labels": false, "title": null, "values": [0, 0.2, 0.4, 0.6, 0.8, 1]}},
                    "y": {"field": "lo", "type": "quantitative", "scale": {"domain": [0, 2], "nice": false}, "axis": {"values": [0, 1, 2], "format": ".1f", "labelOverlap": false, "title": "F-MHOU"}},
                    "y2": {"field": "hi"},
                    "fill": {"field": "mu", "type": "nominal", "scale": {"domain": [50, 100, 150], "range": ["#eb5f5f", "#55af55", "#4b9bcd"]}, "legend": null}
                  }
                },
                {"data": {"values": [{}]}, "mark": {"type": "rule", "color": "#555", "strokeWidth": 1}, "encoding": {"y": {"datum": 1}}}
              ]
            },
            {
              "width": 218, "height": 47,
              "layer": [
                {
                  "data": {"name": "ldme"},
                  "mark": {"type": "area", "fillOpacity": 0.22},
                  "encoding": {
                    "x": {"field": "z", "type": "quantitative", "scale": {"domain": [-0.015, 1.02], "nice": false, "zero": false}, "axis": {"values": [0, 0.2, 0.4, 0.6, 0.8, 1], "format": ".1f", "labelOverlap": false, "title": "z", "titleFontStyle": "italic"}},
                    "y": {"field": "lo", "type": "quantitative", "scale": {"domain": [0.5, 1.5], "nice": false, "zero": false}, "axis": {"values": [0.5, 1, 1.5], "format": ".1f", "labelOverlap": false, "title": "LDME"}},
                    "y2": {"field": "hi"},
                    "fill": {"field": "mu", "type": "nominal", "scale": {"domain": [50, 100, 150], "range": ["#eb5f5f", "#55af55", "#4b9bcd"]}, "legend": null}
                  }
                },
                {"data": {"values": [{}]}, "mark": {"type": "rule", "color": "#555", "strokeWidth": 1}, "encoding": {"y": {"datum": 1}}}
              ]
            }
          ]
        },
        {
          "title": "[u → T₄b(2⁺⁺)] fragmentation channel",
          "bounds": "flush",
          "spacing": 10,
          "resolve": {"scale": {"x": "independent", "y": "independent", "fill": "independent", "stroke": "independent", "strokeDash": "independent"}},
          "vconcat": [
            {
              "width": 218, "height": 191,
              "layer": [
                {
                  "data": {"name": "u"},
                  "mark": {"type": "area", "fillOpacity": 0.5, "interpolate": "monotone", "clip": true},
                  "encoding": {
                    "x": {"field": "z", "type": "quantitative", "scale": {"domain": [-0.015, 1.02], "nice": false, "zero": false}, "axis": {"labels": false, "title": null, "values": [0, 0.2, 0.4, 0.6, 0.8, 1]}},
                    "y": {"field": "lo", "type": "quantitative", "scale": {"domain": [-0.2, 6], "nice": false, "zero": false}, "axis": {"values": [0, 1, 2, 3, 4, 5, 6], "tickCount": 7, "format": "d", "labelOverlap": false, "labelSeparation": 0, "title": "zD_u^T₄b(2⁺⁺)(z, μF)"}},
                    "y2": {"field": "hi"},
                    "fill": {"field": "mu", "type": "nominal", "scale": {"domain": [50, 100, 150], "range": ["#f58741", "#b9c34b", "#41c3d7"]}, "legend": {"title": "TQ4Q2.0_cs_nlo", "labelExpr": "'μF = ' + datum.label + ' GeV'"}}
                  }
                },
                {
                  "data": {"name": "u"},
                  "mark": {"type": "line", "strokeWidth": 1.3, "interpolate": "monotone", "clip": true},
                  "encoding": {
                    "x": {"field": "z", "type": "quantitative"},
                    "y": {"field": "v", "type": "quantitative"},
                    "stroke": {"field": "mu", "type": "nominal", "scale": {"domain": [50, 100, 150], "range": ["#f07020", "#b8b830", "#20b8c8"]}, "legend": null},
                    "strokeDash": {"field": "mu", "type": "nominal", "scale": {"domain": [50, 100, 150], "range": [[6, 2, 1, 2], [5, 3], [1, 0]]}, "legend": null}
                  }
                },
                {"data": {"values": [{}]}, "mark": {"type": "text", "text": "JETHAD v0.5.5", "align": "left", "baseline": "middle", "fontSize": 7.2, "color": "#222"}, "encoding": {"x": {"datum": 0.02}, "y": {"datum": 5.62}}},
                {"data": {"values": [{}]}, "mark": {"type": "text", "text": "×10⁻⁵", "align": "left", "baseline": "bottom", "fontSize": 5.5, "dy": -1, "color": "#333"}, "encoding": {"x": {"datum": -0.015}, "y": {"datum": 6}}}
              ]
            },
            {
              "width": 218, "height": 47,
              "layer": [
                {
                  "data": {"name": "ur"},
                  "mark": {"type": "area", "fillOpacity": 0.22, "interpolate": "monotone"},
                  "encoding": {
                    "x": {"field": "z", "type": "quantitative", "scale": {"domain": [-0.015, 1.02], "nice": false, "zero": false}, "axis": {"labels": false, "title": null, "values": [0, 0.2, 0.4, 0.6, 0.8, 1]}},
                    "y": {"field": "lo", "type": "quantitative", "scale": {"domain": [0, 2], "nice": false}, "axis": {"values": [0, 1, 2], "format": ".1f", "labelOverlap": false, "title": "F-MHOU"}},
                    "y2": {"field": "hi"},
                    "fill": {"field": "mu", "type": "nominal", "scale": {"domain": [50, 100, 150], "range": ["#f58741", "#b9c34b", "#41c3d7"]}, "legend": null}
                  }
                },
                {"data": {"values": [{}]}, "mark": {"type": "rule", "color": "#555", "strokeWidth": 1}, "encoding": {"y": {"datum": 1}}}
              ]
            },
            {
              "width": 218, "height": 47,
              "layer": [
                {
                  "data": {"name": "ldme"},
                  "mark": {"type": "area", "fillOpacity": 0.22},
                  "encoding": {
                    "x": {"field": "z", "type": "quantitative", "scale": {"domain": [-0.015, 1.02], "nice": false, "zero": false}, "axis": {"values": [0, 0.2, 0.4, 0.6, 0.8, 1], "format": ".1f", "labelOverlap": false, "title": "z", "titleFontStyle": "italic"}},
                    "y": {"field": "lo", "type": "quantitative", "scale": {"domain": [0.5, 1.5], "nice": false, "zero": false}, "axis": {"values": [0.5, 1, 1.5], "format": ".1f", "labelOverlap": false, "title": "LDME"}},
                    "y2": {"field": "hi"},
                    "fill": {"field": "mu", "type": "nominal", "scale": {"domain": [50, 100, 150], "range": ["#f58741", "#b9c34b", "#41c3d7"]}, "legend": null}
                  }
                },
                {"data": {"values": [{}]}, "mark": {"type": "rule", "color": "#555", "strokeWidth": 1}, "encoding": {"y": {"datum": 1}}}
              ]
            }
          ]
        }
      ]
    }
  ],
  "config": {
    "font": "DejaVu Sans",
    "padding": {"left": 9, "top": 3, "right": 0, "bottom": 0},
    "view": {"stroke": "#666", "strokeWidth": 1, "strokeDash": [1, 1]},
    "axis": {
      "domain": false,
      "ticks": false,
      "labelOverlap": false,
      "labelFontSize": 8.5,
      "labelColor": "#222",
      "labelPadding": 4,
      "titleFontSize": 8,
      "titleFontWeight": "normal",
      "titleColor": "#222",
      "titlePadding": 8,
      "gridColor": "#e8e8e8",
      "gridDash": [2, 2]
    },
    "axisX": {"titlePadding": 3},
    "title": {"fontSize": 11, "fontWeight": "normal", "offset": 1, "color": "#111", "anchor": "middle", "dx": 13},
    "legend": {
      "orient": "top-right",
      "offset": 5,
      "labelFontSize": 7.5,
      "titleFontSize": 7.5,
      "titleFontWeight": "normal",
      "labelColor": "#222",
      "titleColor": "#222",
      "symbolType": "M-1,-0.5H1V0.5H-1Z",
      "symbolSize": 144,
      "symbolOpacity": 0.5,
      "symbolStrokeWidth": 0,
      "rowPadding": 5,
      "titlePadding": 6,
      "titleAnchor": "end"
    }
  }
}
